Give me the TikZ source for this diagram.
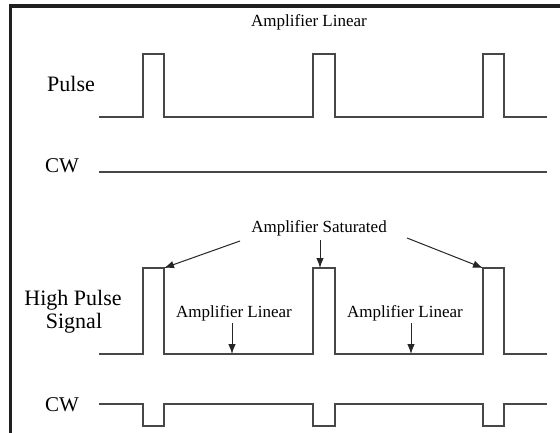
\documentclass[tikz,border=0pt]{standalone}
\usepackage{fontspec}
\setmainfont{Liberation Serif}
\usetikzlibrary{arrows.meta}
\begin{document}
\begin{tikzpicture}[x=1pt,y=-1pt,
  sig/.style={line width=1.3pt,draw=black!72,line join=miter},
  frame/.style={line width=3.5pt,draw=black!88},
  arr/.style={line width=1pt,draw=black!85,-{Latex[length=10pt,width=7.5pt]}},
  biglab/.style={inner sep=0pt,font=\fontsize{22}{24}\selectfont,text=black},
  cwlab/.style={inner sep=0pt,font=\fontsize{21}{24}\selectfont,text=black},
  smalllab/.style={inner sep=0pt,font=\fontsize{17}{19}\selectfont,text=black}]
\useasboundingbox (0,0) rectangle (560,433);
\fill[white] (0,0) rectangle (560,433);
% frame (top and left edges)
\draw[frame] (10.5,433) -- (10.5,6) -- (560,6);

% top label
\node[smalllab,anchor=base] (toplin) at (309,27) {Amplifier Linear};

% Pulse row
\node[biglab,anchor=base west] (pulse) at (47,92) {Pulse};
\draw[sig] (99,117) -- (143,117) -- (143,54) -- (164,54) -- (164,117)
  -- (313,117) -- (313,54) -- (335,54) -- (335,117)
  -- (483,117) -- (483,54) -- (504,54) -- (504,117) -- (547,117);

% CW row 1
\node[cwlab,anchor=base west] (cw1) at (45,173) {CW};
\draw[sig] (99,172) -- (547,172);

% High pulse row
\node[biglab,anchor=base] (high) at (73,305) {High Pulse};
\node[biglab,anchor=base] (signal) at (74,328) {Signal};
\coordinate (h1) at (164,268);
\coordinate (h2) at (320,268);
\coordinate (h3) at (483,268);
\draw[sig] (99,354) -- (143,354) -- (143,268) -- (h1) -- (164,354)
  -- (313,354) -- (313,268) -- (335,268) -- (335,354)
  -- (483,354) -- (h3) -- (504,268) -- (504,354) -- (547,354);

% CW row 2
\node[cwlab,anchor=base west] (cw2) at (45,411) {CW};
\draw[sig] (99,404) -- (143,404) -- (143,426) -- (164,426) -- (164,404)
  -- (313,404) -- (313,426) -- (335,426) -- (335,404)
  -- (483,404) -- (483,426) -- (504,426) -- (504,404) -- (547,404);

% Amplifier saturated
\node[smalllab,anchor=base] (sat) at (319,233) {Amplifier Saturated};
\coordinate (sa1) at (240,241);
\coordinate (sa3) at (407,238);
\draw[arr] (sa1) -- (h1);
\draw[arr] (h2 |- sat.south) ++(0,3) -- (h2);
\draw[arr] (sa3) -- (h3);

% Amplifier linear labels
\node[smalllab,anchor=base] (linL) at (234,317) {Amplifier Linear};
\node[smalllab,anchor=base] (linR) at (405,317) {Amplifier Linear};
\coordinate (l1) at (232,354);
\coordinate (l2) at (411,354);
\draw[arr] (l1 |- linL.south) ++(0,2) -- (l1);
\draw[arr] (l2 |- linR.south) ++(0,2) -- (l2);
\end{tikzpicture}
\end{document}
